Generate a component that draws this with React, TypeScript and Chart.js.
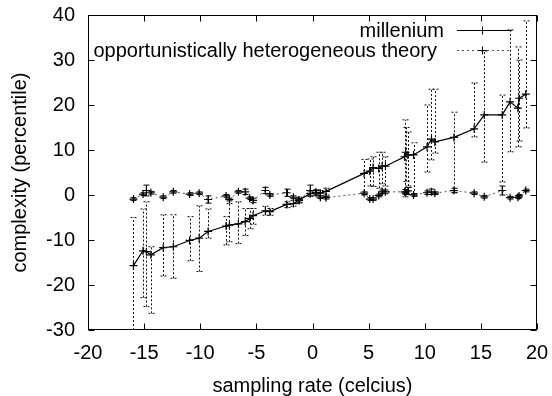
import React, { useEffect, useRef } from "react";
import { Chart, registerables } from "chart.js";

Chart.register(...registerables);

const FONT = "'Liberation Sans', Arial, Helvetica, sans-serif";

// shared sample positions (sampling rate, celcius)
const xValues = [
  -15.95, -15.1, -14.8, -14.4, -13.3, -12.4, -10.95, -10.1, -9.3, -7.7,
  -7.4, -6.6, -6.0, -5.6, -5.3, -4.2, -3.8, -2.3, -1.7, -1.2,
  -0.2, 0.3, 0.7, 1.2, 4.6, 5.1, 5.4, 5.9, 6.2, 6.5,
  8.2, 8.3, 8.5, 9.0, 10.2, 10.6, 10.9, 12.6, 14.4, 15.3,
  16.9, 17.6, 18.3, 18.4, 19.0,
];

// series "millenium"
const milleniumY = [
  -15.7, -12.4, -12.6, -13.3, -11.7, -11.5, -10.1, -9.6, -8.1, -6.9,
  -6.7, -6.4, -5.9, -5.2, -4.6, -3.5, -3.7, -2.1, -1.9, -1.1,
  0.3, 0.6, 0.4, 0.8, 4.8, 5.3, 6.1, 5.9, 6.4, 6.4,
  8.5, 9.5, 8.9, 8.9, 10.7, 12.4, 11.8, 12.8, 14.7, 17.8,
  17.8, 20.7, 19.3, 21.5, 22.4,
];
const milleniumLow = [
  -30, -22.8, -24.8, -26.3, -18, -18.5, -14.6, -17, -9.6, -11.1,
  -10.4, -10.8, -9, -7.5, -6.5, -4.5, -4.5, -2.8, -2.5, -1.8,
  -0.3, 0, -0.2, 0, 0, 2, 1.9, 1.5, 2.5, 2,
  -0.4, 3, 2, 0, 5.1, 7.8, 9.3, 0.6, 12.9, 7.3,
  2.9, 9.6, 10.7, 12, 14.9,
];
const milleniumHigh = [
  -5, -3.1, -1.5, -11.5, -4.4, -4.4, -4.8, -2.4, -3.1, -4.8,
  -1.9, -1.5, -3, -3, -3, -2.5, -3, -1.5, -1.2, -0.5,
  0.9, 1.2, 1, 1.5, 7.9, 8, 8.5, 9.5, 9.5, 8.5,
  16.7, 15, 14, 11.6, 20, 23.5, 23.5, 18.4, 24.9, 32,
  22.2, 36.7, 32.9, 30, 38.7,
];

// series "opportunistically heterogeneous theory"
const theoryY = [
  -0.9, 0.2, 1.0, 0.5, -0.5, 0.7, 0.2, 0.4, -1.0, -0.2,
  -1.0, 0.7, 0.7, -0.7, -1.2, 1.0, 0, 0.5, -0.5, -1.2,
  1.0, 0.5, -0.5, -0.6, 0.4, -0.9, -0.9, -0.1, 0.7, 0.7,
  0.7, 0.4, 0.9, 0, 0.5, 0.7, 0.4, 1.0, 0.4, -0.4,
  1.0, -0.6, -0.5, -0.2, 1.0,
];
const theoryErr = [
  0.3, 0.3, 1.2, 0.3, 0.3, 0.3, 0.3, 0.3, 0.8, 0.3,
  0.3, 0.3, 0.6, 0.3, 0.5, 0.7, 0.3, 0.8, 0.3, 0.4,
  1.2, 0.5, 0.3, 0.3, 0.3, 0.3, 0.3, 0.3, 0.4, 0.4,
  0.5, 0.3, 0.8, 0.3, 0.4, 0.6, 0.3, 0.5, 0.3, 0.3,
  1.0, 0.3, 0.3, 0.3, 0.3,
];

const seriesNames = ["millenium", "opportunistically heterogeneous theory"];
const xTitle = "sampling rate (celcius)";
const yTitle = "complexity (percentile)";
const xRange = [-20, 20];
const yRange = [-30, 40];
const xStep = 5;
const yStep = 10;

const gnuplotPlugin = {
  id: "gnuplotDecor",
  afterDatasetsDraw(chart: any) {
    const { ctx, chartArea: a, scales } = chart;
    const xs = scales.x;
    const ys = scales.y;

    // error bars
    ctx.save();
    ctx.beginPath();
    ctx.rect(a.left, a.top, a.right - a.left, a.bottom - a.top);
    ctx.clip();
    ctx.lineWidth = 1;
    ctx.strokeStyle = "#111";
    ctx.setLineDash([2, 2]);
    for (let i = 0; i < xValues.length; i++) {
      const px = Math.round(xs.getPixelForValue(xValues[i])) + 0.5;
      const lo = ys.getPixelForValue(milleniumLow[i]);
      const hi = ys.getPixelForValue(milleniumHigh[i]);
      ctx.beginPath();
      ctx.moveTo(px, lo);
      ctx.lineTo(px, hi);
      ctx.moveTo(px - 3, lo);
      ctx.lineTo(px + 3, lo);
      ctx.moveTo(px - 3, hi);
      ctx.lineTo(px + 3, hi);
      ctx.stroke();
    }
    ctx.setLineDash([]);
    ctx.strokeStyle = "#000";
    for (let i = 0; i < xValues.length; i++) {
      const px = Math.round(xs.getPixelForValue(xValues[i])) + 0.5;
      const lo = ys.getPixelForValue(theoryY[i] - theoryErr[i]);
      const hi = ys.getPixelForValue(theoryY[i] + theoryErr[i]);
      ctx.beginPath();
      ctx.moveTo(px, lo);
      ctx.lineTo(px, hi);
      ctx.moveTo(px - 3, lo);
      ctx.lineTo(px + 3, lo);
      ctx.moveTo(px - 3, hi);
      ctx.lineTo(px + 3, hi);
      ctx.stroke();
    }
    ctx.restore();

    // frame and inward ticks (mirrored)
    ctx.save();
    ctx.strokeStyle = "#000";
    ctx.lineWidth = 1;
    const L = Math.round(a.left) + 0.5;
    const R = Math.round(a.right) - 0.5;
    const T = Math.round(a.top) + 0.5;
    const B = Math.round(a.bottom) - 0.5;
    ctx.strokeRect(L, T, R - L, B - T);
    ctx.beginPath();
    for (const t of xs.ticks) {
      const px = Math.round(xs.getPixelForValue(t.value)) + 0.5;
      ctx.moveTo(px, B);
      ctx.lineTo(px, B - 6);
      ctx.moveTo(px, T);
      ctx.lineTo(px, T + 6);
    }
    for (const t of ys.ticks) {
      const py = Math.round(ys.getPixelForValue(t.value)) + 0.5;
      ctx.moveTo(L, py);
      ctx.lineTo(L + 6, py);
      ctx.moveTo(R, py);
      ctx.lineTo(R - 6, py);
    }
    ctx.stroke();

    // legend (gnuplot style, right-justified text with sample)
    ctx.font = `20px ${FONT}`;
    ctx.fillStyle = "#000";
    ctx.textAlign = "right";
    ctx.textBaseline = "alphabetic";
    ctx.fillText(seriesNames[0], 444, 37);
    ctx.fillText(seriesNames[1], 437, 57);

    ctx.lineWidth = 1;
    ctx.strokeStyle = "#000";
    ctx.beginPath();
    ctx.moveTo(457, 30.5);
    ctx.lineTo(512, 30.5);
    ctx.stroke();
    ctx.strokeStyle = "#555";
    ctx.setLineDash([2, 3]);
    ctx.beginPath();
    ctx.moveTo(457, 50.5);
    ctx.lineTo(512, 50.5);
    ctx.stroke();
    ctx.setLineDash([]);
    ctx.strokeStyle = "#000";
    ctx.beginPath();
    for (const yy of [30.5, 50.5]) {
      ctx.moveTo(482.5, yy - 4);
      ctx.lineTo(482.5, yy + 4);
      ctx.moveTo(478.5, yy);
      ctx.lineTo(486.5, yy);
    }
    ctx.stroke();
    ctx.restore();
  },
};

export default function App() {
  const ref = useRef<HTMLCanvasElement>(null);

  useEffect(() => {
    if (!ref.current) return;
    const milleniumData = xValues.map((x, i) => ({ x, y: milleniumY[i] }));
    const theoryData = xValues.map((x, i) => ({ x, y: theoryY[i] }));

    const chart = new Chart(ref.current, {
      type: "scatter",
      data: {
        datasets: [
          {
            label: seriesNames[0],
            data: milleniumData,
            showLine: true,
            borderColor: "#000",
            backgroundColor: "#000",
            borderWidth: 1.2,
            pointStyle: "cross",
            pointRadius: 4,
            pointBorderWidth: 1.2,
            pointBorderColor: "#000",
          },
          {
            label: seriesNames[1],
            data: theoryData,
            showLine: true,
            borderColor: "#555",
            backgroundColor: "#000",
            borderWidth: 1,
            borderDash: [2, 3],
            pointStyle: "cross",
            pointRadius: 4,
            pointBorderWidth: 1.2,
            pointBorderColor: "#000",
          },
        ],
      },
      options: {
        responsive: false,
        animation: false,
        events: [],
        layout: { padding: { top: 15, right: 15, left: 0, bottom: 0 } },
        plugins: {
          legend: { display: false },
          tooltip: { enabled: false },
        },
        scales: {
          x: {
            type: "linear",
            min: xRange[0],
            max: xRange[1],
            grid: { display: false, drawTicks: false },
            border: { display: false },
            ticks: {
              stepSize: xStep,
              autoSkip: false,
              maxRotation: 0,
              padding: 11,
              color: "#000",
              font: { family: FONT, size: 20 },
            },
            title: {
              display: true,
              text: xTitle,
              color: "#000",
              font: { family: FONT, size: 20, lineHeight: 1 },
              padding: { top: 0, bottom: 0 },
            },
            afterFit(scale: any) {
              scale.height = 66;
              scale.paddingLeft = 0;
              scale.paddingRight = 0;
            },
          },
          y: {
            type: "linear",
            min: yRange[0],
            max: yRange[1],
            grid: { display: false, drawTicks: false },
            border: { display: false },
            ticks: {
              stepSize: yStep,
              autoSkip: false,
              padding: 13,
              color: "#000",
              font: { family: FONT, size: 20 },
            },
            title: {
              display: true,
              text: yTitle,
              color: "#000",
              font: { family: FONT, size: 20, lineHeight: 1 },
              padding: { top: 10, bottom: 0 },
            },
            afterFit(scale: any) {
              scale.width = 88;
              scale.paddingTop = 0;
              scale.paddingBottom = 0;
            },
          },
        },
      },
      plugins: [gnuplotPlugin],
    });
    return () => chart.destroy();
  }, []);

  return (
    <div style={{ position: "absolute", left: 0, top: 0, width: 552, height: 396, background: "#fff" }}>
      <canvas ref={ref} width={552} height={396} style={{ display: "block" }} />
    </div>
  );
}
